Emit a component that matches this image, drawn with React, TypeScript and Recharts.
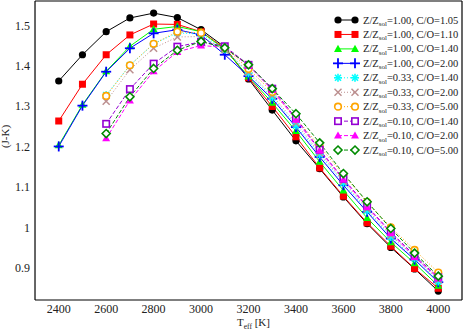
import { LineChart, Line, XAxis, YAxis } from 'recharts'

// temperatures
const T_FULL = [2400, 2500, 2600, 2700, 2800, 2900, 3000, 3100, 3200, 3300, 3400, 3500, 3600, 3700, 3800, 3900, 4000]
const T_SHORT = [2600, 2700, 2800, 2900, 3000, 3100, 3200, 3300, 3400, 3500, 3600, 3700, 3800, 3900, 4000]

// (J-K) values
const z100co105 = [1.362, 1.427, 1.484, 1.518, 1.530, 1.519, 1.489, 1.446, 1.367, 1.290, 1.214, 1.145, 1.075, 1.009, 0.950, 0.897, 0.842]
const z100co110 = [1.263, 1.354, 1.427, 1.476, 1.503, 1.502, 1.484, 1.443, 1.370, 1.299, 1.224, 1.147, 1.077, 1.011, 0.953, 0.898, 0.849]
const z100co140 = [1.203, 1.303, 1.386, 1.448, 1.490, 1.497, 1.484, 1.440, 1.373, 1.308, 1.238, 1.162, 1.091, 1.023, 0.963, 0.911, 0.855]
const z100co200 = [1.200, 1.301, 1.385, 1.443, 1.480, 1.489, 1.476, 1.427, 1.374, 1.318, 1.248, 1.174, 1.104, 1.038, 0.972, 0.920, 0.864]
const z033co140 = [1.327, 1.401, 1.454, 1.481, 1.478, 1.440, 1.381, 1.322, 1.252, 1.180, 1.110, 1.041, 0.976, 0.923, 0.866]
const z033co200 = [1.312, 1.390, 1.443, 1.471, 1.472, 1.440, 1.384, 1.326, 1.258, 1.184, 1.114, 1.045, 0.980, 0.927, 0.870]
const z033co500 = [1.325, 1.401, 1.454, 1.484, 1.481, 1.445, 1.392, 1.335, 1.270, 1.200, 1.130, 1.062, 1.000, 0.944, 0.888]
const z010co140 = [1.256, 1.342, 1.405, 1.447, 1.459, 1.448, 1.402, 1.343, 1.270, 1.192, 1.120, 1.052, 0.988, 0.930, 0.876]
const z010co200 = [1.220, 1.314, 1.386, 1.434, 1.450, 1.445, 1.400, 1.340, 1.266, 1.190, 1.118, 1.050, 0.986, 0.926, 0.874]
const z010co500 = [1.232, 1.323, 1.393, 1.438, 1.460, 1.444, 1.402, 1.343, 1.281, 1.209, 1.133, 1.063, 0.997, 0.936, 0.879]

// ticks
const X_MAJOR = [2400, 2600, 2800, 3000, 3200, 3400, 3600, 3800, 4000]
const X_MINOR = [2500, 2700, 2900, 3100, 3300, 3500, 3700, 3900]
const Y_MAJOR = [0.9, 1, 1.1, 1.2, 1.3, 1.4, 1.5]
const Y_MINOR = [0.84, 0.86, 0.88, 0.92, 0.94, 0.96, 0.98, 1.02, 1.04, 1.06, 1.08, 1.12, 1.14, 1.16, 1.18,
  1.22, 1.24, 1.26, 1.28, 1.32, 1.34, 1.36, 1.38, 1.42, 1.44, 1.46, 1.48, 1.52, 1.54]

const X_DOMAIN = [2300, 4100]
const Y_DOMAIN = [0.82, 1.56]

const FONT = "'Liberation Serif', 'DejaVu Serif', serif"
const TICK_STYLE = { fill: '#222', fontSize: 12, fontFamily: FONT }
const MINOR_COLOR = '#666'
const THIN = 0.01 // axes must be > 0 to be drawn

type Shape = 'circle' | 'square' | 'triangle' | 'plus' | 'star' | 'cross' | 'ocircle' | 'osquare' | 'diamond'

const SERIES: { z: string; co: string; temps: number[]; values: number[]; color: string; dash?: string; shape: Shape }[] = [
  { z: '1.00', co: '1.05', temps: T_FULL, values: z100co105, color: '#000000', shape: 'circle' },
  { z: '1.00', co: '1.10', temps: T_FULL, values: z100co110, color: '#ff0000', shape: 'square' },
  { z: '1.00', co: '1.40', temps: T_FULL, values: z100co140, color: '#00ff00', shape: 'triangle' },
  { z: '1.00', co: '2.00', temps: T_FULL, values: z100co200, color: '#0000ff', shape: 'plus' },
  { z: '0.33', co: '1.40', temps: T_SHORT, values: z033co140, color: '#00ffff', dash: '1 2', shape: 'star' },
  { z: '0.33', co: '2.00', temps: T_SHORT, values: z033co200, color: '#bc8f8f', dash: '1 2', shape: 'cross' },
  { z: '0.33', co: '5.00', temps: T_SHORT, values: z033co500, color: '#ffa500', dash: '1 2', shape: 'ocircle' },
  { z: '0.10', co: '1.40', temps: T_SHORT, values: z010co140, color: '#9400d3', dash: '4 2', shape: 'osquare' },
  { z: '0.10', co: '2.00', temps: T_SHORT, values: z010co200, color: '#ff00ff', dash: '4 2', shape: 'triangle' },
  { z: '0.10', co: '5.00', temps: T_SHORT, values: z010co500, color: '#008b00', dash: '4 2', shape: 'diamond' },
]

const toRows = (temps: number[], values: number[]) => temps.map((t, i) => ({ t, v: values[i] }))

function Marker({ shape, color, cx, cy }: { shape: Shape; color: string; cx: number; cy: number }) {
  if (cx == null || cy == null) return null
  switch (shape) {
    case 'circle':
      return <circle cx={cx} cy={cy} r={3.6} fill={color} />
    case 'square':
      return <rect x={cx - 3.5} y={cy - 3.5} width={7} height={7} fill={color} />
    case 'triangle':
      return <polygon points={`${cx},${cy - 4.2} ${cx - 4},${cy + 3} ${cx + 4},${cy + 3}`} fill={color} />
    case 'plus':
      return (
        <g stroke={color} strokeWidth={1.8}>
          <line x1={cx - 5} y1={cy} x2={cx + 5} y2={cy} />
          <line x1={cx} y1={cy - 5} x2={cx} y2={cy + 5} />
        </g>
      )
    case 'star':
      return (
        <g stroke={color} strokeWidth={1.6}>
          <line x1={cx - 4} y1={cy} x2={cx + 4} y2={cy} />
          <line x1={cx} y1={cy - 4} x2={cx} y2={cy + 4} />
          <line x1={cx - 3} y1={cy - 3} x2={cx + 3} y2={cy + 3} />
          <line x1={cx - 3} y1={cy + 3} x2={cx + 3} y2={cy - 3} />
        </g>
      )
    case 'cross':
      return (
        <g stroke={color} strokeWidth={1.5}>
          <line x1={cx - 3.5} y1={cy - 3.5} x2={cx + 3.5} y2={cy + 3.5} />
          <line x1={cx - 3.5} y1={cy + 3.5} x2={cx + 3.5} y2={cy - 3.5} />
        </g>
      )
    case 'ocircle':
      return <circle cx={cx} cy={cy} r={3.3} fill="#fff" stroke={color} strokeWidth={1.6} />
    case 'osquare':
      return <rect x={cx - 3.2} y={cy - 3.2} width={6.4} height={6.4} fill="#fff" stroke={color} strokeWidth={1.6} />
    case 'diamond':
      return <polygon points={`${cx},${cy - 4} ${cx + 4},${cy} ${cx},${cy + 4} ${cx - 4},${cy}`} fill="#fff" stroke={color} strokeWidth={1.6} />
  }
  return null
}

const XTitle = ({ viewBox }: any) => (
  <text x={viewBox.x + viewBox.width / 2 + 5} y={viewBox.y + 26} textAnchor="middle" fontFamily={FONT} fontSize={11} fill="#222">
    T<tspan fontSize={7.5} dy={3}>eff</tspan>
    <tspan dy={-3}> [K]</tspan>
  </text>
)

const YTitle = ({ viewBox }: any) => {
  const x = viewBox.x - 26
  const y = viewBox.y + viewBox.height / 2 - 14
  return (
    <text x={x} y={y} transform={`rotate(-90 ${x} ${y})`} textAnchor="middle" fontFamily={FONT} fontSize={11} fill="#222">
      (J-K)
    </text>
  )
}

const LegendBox = () => (
  <svg width={133} height={150} style={{ position: 'absolute', left: 330, top: 10 }}>
    {SERIES.map((s, i) => {
      const y = 10 + i * 14.45
      return (
        <g key={i}>
          <line x1={8} y1={y} x2={25} y2={y} stroke={s.color} strokeWidth={1} strokeDasharray={s.dash} />
          <Marker shape={s.shape} color={s.color} cx={8} cy={y} />
          <Marker shape={s.shape} color={s.color} cx={25} cy={y} />
          <text x={33} y={y + 3.5} fontFamily={FONT} fontSize={10.5} fill="#222">
            Z/Z<tspan fontSize={7} dy={2.5}>sol</tspan>
            <tspan dy={-2.5}>={s.z}, C/O={s.co}</tspan>
          </text>
        </g>
      )
    })}
  </svg>
)

const frame = { stroke: '#000', strokeWidth: 1.2 }

const App = () => {
  return (
    <div style={{ position: 'absolute', left: 0, top: 0, width: 463, height: 331, background: '#fff' }}>
      <LineChart width={463} height={331} margin={{ top: 1, right: 1, bottom: 31, left: 35 }}>
        {/* labelled axes: bottom / left */}
        <XAxis xAxisId={0} type="number" dataKey="t" domain={X_DOMAIN} allowDataOverflow ticks={X_MAJOR} interval={0}
          height={THIN} tickSize={0} tickMargin={4} tickLine={false} axisLine={frame} tick={TICK_STYLE} label={{ content: XTitle }} />
        <YAxis yAxisId={0} type="number" domain={Y_DOMAIN} allowDataOverflow ticks={Y_MAJOR} interval={0}
          width={THIN} tickSize={0} tickMargin={5} tickLine={false} axisLine={frame} tick={TICK_STYLE}
          tickFormatter={(v: number) => String(v)} label={{ content: YTitle }} />
        {/* inward tick marks on all four sides */}
        <XAxis xAxisId="bM" type="number" domain={X_DOMAIN} allowDataOverflow ticks={X_MAJOR} interval={0} height={THIN}
          mirror tick={false} tickSize={8} axisLine={false} tickLine={{ stroke: MINOR_COLOR }} />
        <XAxis xAxisId="bm" type="number" domain={X_DOMAIN} allowDataOverflow ticks={X_MINOR} interval={0} height={THIN}
          mirror tick={false} tickSize={4} axisLine={false} tickLine={{ stroke: MINOR_COLOR }} />
        <XAxis xAxisId="tM" orientation="top" type="number" domain={X_DOMAIN} allowDataOverflow ticks={X_MAJOR} interval={0} height={THIN}
          mirror tick={false} tickSize={8} axisLine={frame} tickLine={{ stroke: MINOR_COLOR }} />
        <XAxis xAxisId="tm" orientation="top" type="number" domain={X_DOMAIN} allowDataOverflow ticks={X_MINOR} interval={0} height={THIN}
          mirror tick={false} tickSize={4} axisLine={false} tickLine={{ stroke: MINOR_COLOR }} />
        <YAxis yAxisId="lM" type="number" domain={Y_DOMAIN} allowDataOverflow ticks={Y_MAJOR} interval={0} width={THIN}
          mirror tick={false} tickSize={8} axisLine={false} tickLine={{ stroke: MINOR_COLOR }} />
        <YAxis yAxisId="lm" type="number" domain={Y_DOMAIN} allowDataOverflow ticks={Y_MINOR} interval={0} width={THIN}
          mirror tick={false} tickSize={4} axisLine={false} tickLine={{ stroke: MINOR_COLOR }} />
        <YAxis yAxisId="rM" orientation="right" type="number" domain={Y_DOMAIN} allowDataOverflow ticks={Y_MAJOR} interval={0} width={THIN}
          mirror tick={false} tickSize={8} axisLine={frame} tickLine={{ stroke: MINOR_COLOR }} />
        <YAxis yAxisId="rm" orientation="right" type="number" domain={Y_DOMAIN} allowDataOverflow ticks={Y_MINOR} interval={0} width={THIN}
          mirror tick={false} tickSize={4} axisLine={false} tickLine={{ stroke: MINOR_COLOR }} />

        {SERIES.map((s, i) => (
          <Line
            key={i}
            xAxisId={0}
            yAxisId={0}
            data={toRows(s.temps, s.values)}
            dataKey="v"
            type="linear"
            stroke={s.color}
            strokeWidth={1}
            strokeDasharray={s.dash}
            dot={(p: any) => <Marker key={p.index} shape={s.shape} color={s.color} cx={p.cx} cy={p.cy} />}
            activeDot={false}
            isAnimationActive={false}
          />
        ))}
      </LineChart>
      <LegendBox />
    </div>
  )
}

export default App
